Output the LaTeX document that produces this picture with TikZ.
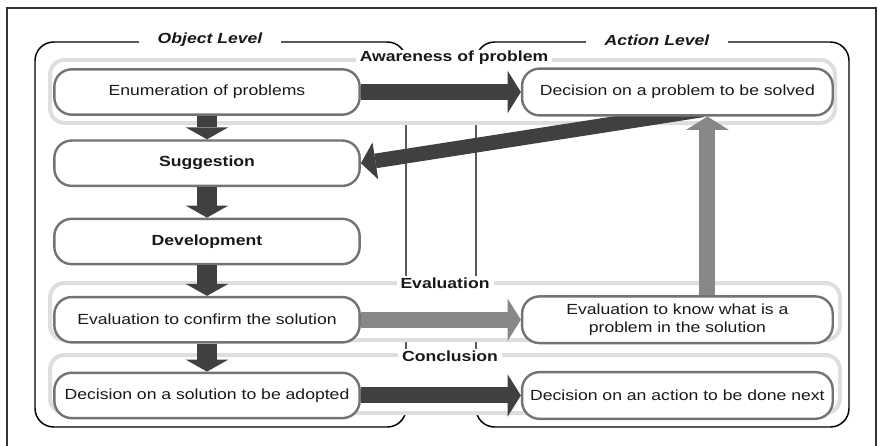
\documentclass[tikz,border=0pt]{standalone}
\usepackage{fontspec}
\setmainfont{Liberation Sans}[FakeStretch=1.2]
\usetikzlibrary{positioning, arrows.meta, backgrounds}

\begin{document}
\begin{tikzpicture}[
    x=0.75pt, y=-0.75pt,
    every node/.style={font=\fontsize{11}{13.5}\selectfont, text=black!90},
    stage/.style={draw=black!55, line width=1.8pt, fill=white, rectangle, rounded corners=13pt, minimum width=229pt, minimum height=34pt, inner sep=2pt, align=center},
    actstage/.style={stage, minimum width=233pt, minimum height=35pt},
    level/.style={draw=black, line width=1.1pt, rounded corners=14pt},
    band/.style={draw=black!13, line width=3pt, fill=white, rounded corners=11pt},
    bandtitle/.style={fill=white, font=\fontsize{11}{13.5}\selectfont\bfseries, inner xsep=3pt, inner ysep=1pt},
    leveltitle/.style={fill=white, font=\fontsize{11}{13.5}\selectfont\bfseries\itshape, inner xsep=14pt},
    darkarrow/.style={-{Triangle[length=10pt, width=32pt, line width=0pt]}, line width=12pt, draw=black!75},
    greyarrow/.style={darkarrow, draw=black!47},
    downarrow/.style={darkarrow, line width=15pt, -{Triangle[length=9pt, width=32pt, line width=0pt]}}
]
\useasboundingbox (0,0) rectangle (879,446);

\node[stage] (1) at (207,92) {Enumeration of problems};
\node[stage, below=17.6pt of 1] (2) {\textbf{Suggestion}};
\node[stage, below=22.9pt of 2] (3) {\textbf{Development}};
\node[stage, below=22.9pt of 3] (4) {Evaluation to confirm the solution};
\node[stage, below=21pt of 4] (5) {Decision on a solution to be adopted};
\node[actstage, right=120pt of 1] (6) {Decision on a problem to be solved};
\node[actstage, right=120pt of 4] (7) {Evaluation to know what is a\\problem in the solution};
\node[actstage, right=120pt of 5] (8) {Decision on an action to be done next};

\begin{pgfonlayer}{background}
% frame and the two levels
\draw[line width=1.2pt, draw=black!80] (7,460) -- (7,8) -- (876,8) -- (876,460);
\draw[level] (35,42) rectangle (406,427);
\draw[level] (476,42) rectangle (849,427);
\node[leveltitle] (obj) at (210,40) {Object Level};
\node[leveltitle] (act) at (657,40) {Action Level};
% bands
\draw[band] (50,60) rectangle (835,123);
\draw[band] (50,283) rectangle (840,340);
\draw[band] (50,355) rectangle (840,413);
\node[bandtitle] (aw) at (454,58) {Awareness of problem};
\node[bandtitle] (ev) at (445,283) {Evaluation};
\node[bandtitle] (co) at (450,356) {Conclusion};
\draw[darkarrow, line width=11pt, -{Triangle[length=11pt, width=28pt, line width=0pt]}] ([xshift=19pt, yshift=5pt]6.south) -- (2.east);
\end{pgfonlayer}

\draw[darkarrow] (1) -- (6);
\draw[downarrow] (1) -- (2);
\draw[downarrow] (2) -- (3);
\draw[downarrow] (3) -- (4);
\draw[downarrow] (4) -- (5);
\draw[greyarrow] (4) -- (7);
\draw[darkarrow] (5) -- (8);
\draw[greyarrow] ([xshift=22.5pt]7.north) -- ([xshift=22.5pt]6.south);
\end{tikzpicture}
\end{document}
